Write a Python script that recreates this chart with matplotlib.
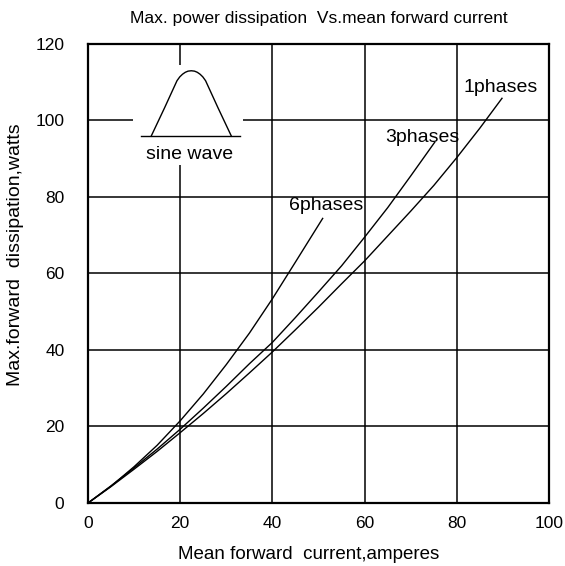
import matplotlib

matplotlib.use("Agg")

import matplotlib.pyplot as plt
from matplotlib.patches import Rectangle

plt.rcParams["font.family"] = ["Liberation Sans", "DejaVu Sans"]

# curves (mean current A -> max dissipation W)
x_6ph = [0, 5, 10, 15, 20, 25, 30, 35, 40, 45, 50.9]
y_6ph = [0, 4.4, 9.5, 15.1, 21.5, 28.5, 36.2, 44.4, 53.4, 63.0, 74.4]

x_3ph = [0, 5, 10, 15, 20, 25, 30, 35, 40, 45, 50, 55, 60, 65, 70, 75.2]
y_3ph = [0, 4.5, 9.2, 14.1, 19.3, 24.8, 30.5, 36.4, 42.0, 48.5, 55.2, 62.0, 69.5, 77.2, 85.5, 94.3]

x_1ph = [0, 5, 10, 15, 20, 25, 30, 35, 40, 45, 50, 55, 60, 65, 70, 75, 80, 85, 89.8]
y_1ph = [0, 4.3, 8.85, 13.5, 18.4, 23.4, 28.6, 34.0, 39.5, 45.3, 51.2, 57.3, 63.3, 69.8, 76.3, 83.0, 90.3, 98.0, 105.8]

curve_labels = ["6phases", "3phases", "1phases"]
label_pos = [(51.6, 76.6), (72.6, 94.5), (89.4, 107.5)]

# little sine-wave pictogram in the upper-left corner
icon_x = [13.7, 16.6, 19.3, 19.9, 20.5, 21.1, 21.7, 22.4, 23.1, 23.7, 24.3, 24.9, 25.5, 28.2, 31.1]
icon_y = [95.9, 103.3, 110.4, 111.4, 112.1, 112.6, 112.9, 113.0, 112.9, 112.6, 112.1, 111.4, 110.4, 103.3, 95.9]
icon_base_x = [11.5, 33.0]
icon_base_y = [96.0, 96.0]

x_ticks = [0, 20, 40, 60, 80, 100]
y_ticks = [0, 20, 40, 60, 80, 100, 120]

fig = plt.figure(figsize=(5.65, 5.66), dpi=100)
ax = fig.add_axes([0.1558, 0.1113, 0.8159, 0.811])

ax.set_xlim(0, 100)
ax.set_ylim(0, 120)
ax.set_xticks(x_ticks)
ax.set_yticks(y_ticks)
ax.tick_params(length=0, labelsize=12.5, pad=9)
ax.tick_params(axis="y", pad=17)
ax.grid(color="black", lw=1.1, zorder=1)
for sp in ax.spines.values():
    sp.set_linewidth(1.6)

for xs, ys in [(x_6ph, y_6ph), (x_3ph, y_3ph), (x_1ph, y_1ph)]:
    ax.plot(xs, ys, color="black", lw=1.0, zorder=3)

for name, (lx, ly) in zip(curve_labels, label_pos):
    ax.text(lx, ly, name, ha="center", va="baseline", fontsize=14, zorder=4)

ax.add_patch(Rectangle((9.8, 88.4), 23.8, 26.1, facecolor="white", edgecolor="none", zorder=2))
ax.plot(icon_x, icon_y, color="black", lw=1.0, zorder=3)
ax.plot(icon_base_x, icon_base_y, color="black", lw=1.0, zorder=3)
ax.text(22.1, 91.0, "sine wave", ha="center", va="center", fontsize=14, zorder=4)

ax.set_title("Max. power dissipation  Vs.mean forward current", fontsize=12.5, pad=15)
ax.set_xlabel("Mean forward  current,amperes", fontsize=13.5)
ax.xaxis.set_label_coords(0.479, -0.093)
ax.set_ylabel("Max.forward  dissipation,watts", fontsize=14)
ax.yaxis.set_label_coords(-0.139, 0.54)

fig.savefig("out.png", dpi=100)
